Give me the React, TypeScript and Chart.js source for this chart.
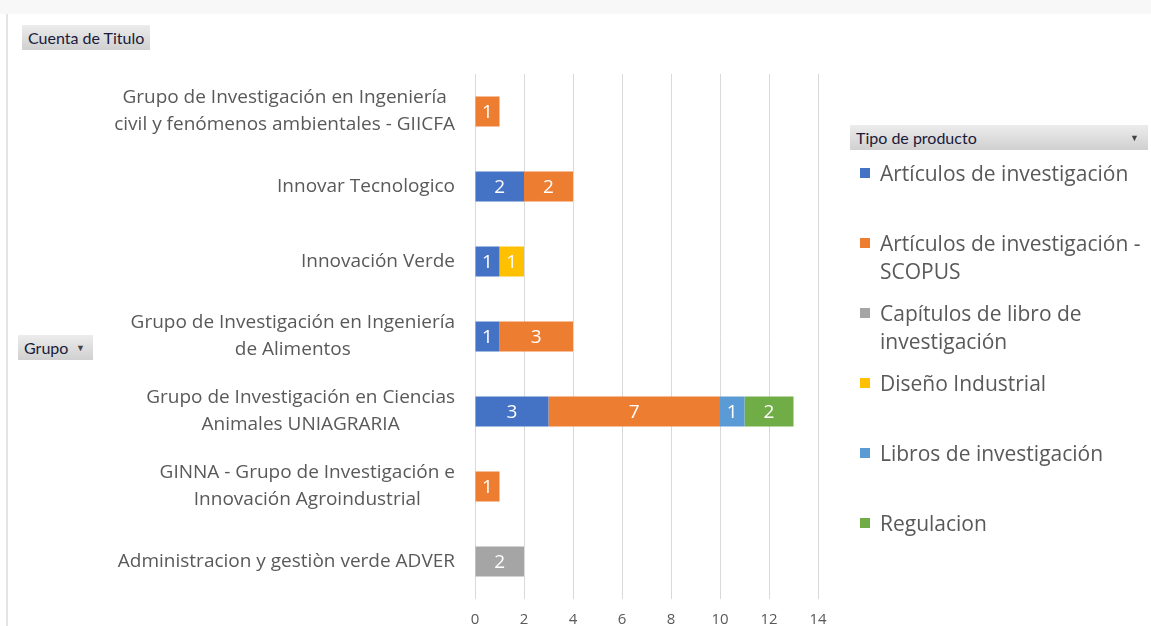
import React, { useEffect, useRef } from "react";
import { Chart, registerables } from "chart.js";

Chart.register(...registerables);

// ---------- data ----------
const categoryLines: string[][] = [
  ["Grupo de Investigación en Ingeniería", "civil y fenómenos ambientales - GIICFA"],
  ["Innovar Tecnologico"],
  ["Innovación Verde"],
  ["Grupo de Investigación en Ingeniería", "de Alimentos"],
  ["Grupo de Investigación en Ciencias", "Animales UNIAGRARIA"],
  ["GINNA - Grupo de Investigación e", "Innovación Agroindustrial"],
  ["Administracion y gestiòn verde ADVER"],
];

const seriesNames = [
  "Artículos de investigación",
  "Artículos de investigación - SCOPUS",
  "Capítulos de libro de investigación",
  "Diseño Industrial",
  "Libros de investigación",
  "Regulacion",
];

const legendLines: string[][] = [
  ["Artículos de investigación"],
  ["Artículos de investigación -", "SCOPUS"],
  ["Capítulos de libro de", "investigación"],
  ["Diseño Industrial"],
  ["Libros de investigación"],
  ["Regulacion"],
];

const seriesColors = ["#4472C4", "#ED7D31", "#A5A5A5", "#FFC000", "#5B9BD5", "#70AD47"];

const articulos = [null, 2, 1, 1, 3, null, null];
const scopus = [1, 2, null, 3, 7, 1, null];
const capitulos = [null, null, null, null, null, null, 2];
const diseno = [null, null, 1, null, null, null, null];
const libros = [null, null, null, null, 1, null, null];
const regulacion = [null, null, null, null, 2, null, null];

const seriesValues = [articulos, scopus, capitulos, diseno, libros, regulacion];

const xMin = 0;
const xMax = 14;
const xStep = 2;

const FONT = "'Open Sans', 'Noto Sans', sans-serif";
const TEXT = "#595959";

// ---------- plugins ----------
const dataLabelPlugin = {
  id: "dataLabels",
  afterDatasetsDraw(chart: any) {
    const ctx = chart.ctx;
    ctx.save();
    ctx.font = `19px ${FONT}`;
    ctx.fillStyle = "#ffffff";
    ctx.textAlign = "center";
    ctx.textBaseline = "middle";
    chart.data.datasets.forEach((ds: any, di: number) => {
      const meta = chart.getDatasetMeta(di);
      meta.data.forEach((el: any, i: number) => {
        const v = ds.data[i];
        if (v === null || v === undefined) return;
        const props = el.getProps(["x", "y", "base"], true);
        const cx = (props.x + props.base) / 2;
        ctx.fillText(String(v), cx, props.y + 1);
      });
    });
    ctx.restore();
  },
};

const yLabelPlugin = {
  id: "yLabels",
  afterDraw(chart: any) {
    const ctx = chart.ctx;
    const yScale = chart.scales.y;
    const rightEdge = chart.chartArea.left - 20;
    const lineH = 27;
    ctx.save();
    ctx.font = `19px ${FONT}`;
    ctx.fillStyle = TEXT;
    ctx.textAlign = "center";
    ctx.textBaseline = "middle";
    categoryLines.forEach((lines, i) => {
      const cy = yScale.getPixelForValue(i);
      const w = Math.max(...lines.map((l) => ctx.measureText(l).width));
      const cx = rightEdge - w / 2;
      const startY = cy - ((lines.length - 1) * lineH) / 2;
      lines.forEach((l, j) => ctx.fillText(l, cx, startY + j * lineH));
    });
    ctx.restore();
  },
};

// ---------- component ----------
const pivotBtn: React.CSSProperties = {
  position: "absolute",
  background: "linear-gradient(#ececec, #d0d0d0)",
  color: "#1a1a3a",
  fontFamily: "Lato, 'Open Sans', sans-serif",
  fontSize: 16,
  lineHeight: "25px",
  height: 25,
  boxSizing: "border-box",
  paddingLeft: 6,
  whiteSpace: "nowrap",
};

export default function App() {
  const canvasRef = useRef<HTMLCanvasElement | null>(null);

  useEffect(() => {
    if (!canvasRef.current) return;
    const chart = new Chart(canvasRef.current, {
      type: "bar",
      data: {
        labels: categoryLines.map((l) => l.join(" ")),
        datasets: seriesNames.map((name, i) => ({
          label: name,
          data: seriesValues[i] as any,
          backgroundColor: seriesColors[i],
          borderWidth: 0,
          barPercentage: 0.4,
          categoryPercentage: 1,
        })),
      },
      options: {
        indexAxis: "y",
        responsive: false,
        animation: false,
        layout: { padding: { left: 475, right: 333, top: 74, bottom: 0 } },
        plugins: {
          legend: { display: false },
          tooltip: { enabled: false },
        },
        scales: {
          x: {
            stacked: true,
            min: xMin,
            max: xMax,
            afterFit: (scale: any) => {
              scale.height = 27;
            },
            ticks: {
              stepSize: xStep,
              color: TEXT,
              font: { family: FONT, size: 15 },
              padding: 12,
            },
            grid: { color: "#d9d9d9", lineWidth: 1, drawTicks: false },
            border: { display: false },
          },
          y: {
            stacked: true,
            afterFit: (scale: any) => {
              scale.width = 0;
            },
            ticks: { display: false },
            grid: { display: false },
            border: { display: false },
          },
        },
      } as any,
      plugins: [dataLabelPlugin, yLabelPlugin],
    });
    return () => chart.destroy();
  }, []);

  return (
    <div
      style={{
        position: "fixed",
        left: 0,
        top: 0,
        width: 1151,
        height: 626,
        background: "#ffffff",
        overflow: "hidden",
      }}
    >
      <div style={{ position: "absolute", left: 0, top: 0, width: 1151, height: 14, background: "#f8f8f8" }} />
      <div style={{ position: "absolute", left: 6, top: 14, width: 2, height: 612, background: "#e4e4e4" }} />
      <canvas
        ref={canvasRef}
        width={1151}
        height={626}
        style={{ position: "absolute", left: 0, top: 0, width: 1151, height: 626 }}
      />
      <div style={{ ...pivotBtn, left: 22, top: 25, width: 128 }}>Cuenta de Titulo</div>
      <div style={{ ...pivotBtn, left: 18, top: 335, width: 75 }}>
        Grupo
        <span style={{ position: "absolute", right: 8, fontSize: 9, color: "#444" }}>▼</span>
      </div>
      <div style={{ ...pivotBtn, left: 850, top: 125, width: 298 }}>
        Tipo de producto
        <span style={{ position: "absolute", right: 9, fontSize: 9, color: "#444" }}>▼</span>
      </div>
      {legendLines.map((lines, i) => (
        <div
          key={i}
          style={{
            position: "absolute",
            left: 860,
            top: 159 + 70 * i,
            width: 291,
            fontFamily: FONT,
            fontSize: 21,
            lineHeight: "28px",
            color: TEXT,
            whiteSpace: "nowrap",
          }}
        >
          <span
            style={{
              position: "absolute",
              left: 0,
              top: 9,
              width: 10,
              height: 10,
              background: seriesColors[i],
            }}
          />
          <div style={{ marginLeft: 20 }}>
            {lines.map((l, j) => (
              <div key={j}>{l}</div>
            ))}
          </div>
        </div>
      ))}
    </div>
  );
}
